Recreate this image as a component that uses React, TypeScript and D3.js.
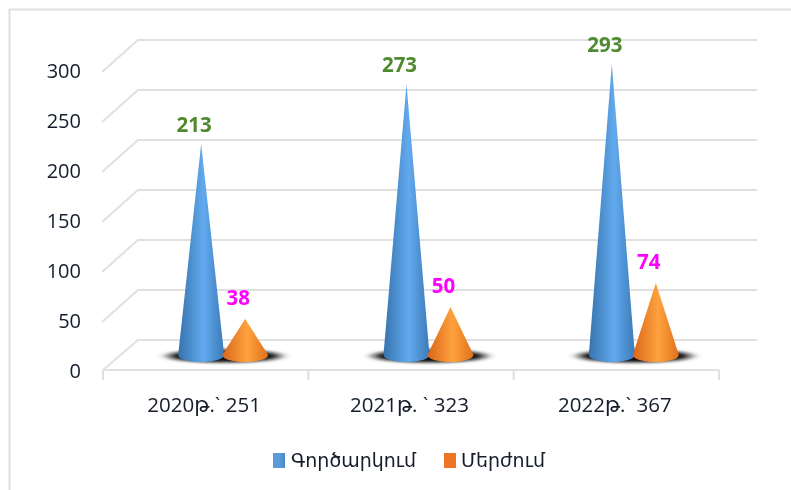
import React from "react";
import * as d3 from "d3";

const categories = ["2020թ.` 251", "2021թ. ` 323", "2022թ.` 367"];
const seriesNames = ["Գործարկում", "Մերժում"];
const approved = [213, 273, 293];
const rejected = [38, 50, 74];
const yTicks = [0, 50, 100, 150, 200, 250, 300];

const FONT = "'Open Sans', 'DejaVu Sans', sans-serif";
const GRID = "#e0e0e0";
const INK = "#141c2b";
const depth = { dx: 35, dy: -30 };
const yFront = d3.scaleLinear().domain([0, 300]).range([370, 70]);
const xFront = d3.scaleBand<string>().domain(categories).range([103, 719]);
const series = d3.scaleBand<string>().domain(seriesNames).range([-44, 44]);
const coneRx = 23;
const coneRy = 7;
const tipDrop = 2;

function Cone({ cx, value, fill }: { cx: number; value: number; fill: string }) {
  const base = yFront(0) + depth.dy / 2;
  const tip = yFront(value) + depth.dy / 2 + tipDrop;
  const d = `M${cx},${tip}L${cx + coneRx},${base}A${coneRx},${coneRy} 0 0 1 ${cx - coneRx},${base}Z`;
  return <path d={d} fill={`url(#${fill})`} />;
}

function Grad({ id, edgeL, mid, edgeR }: { id: string; edgeL: string; mid: string; edgeR: string }) {
  return (
    <linearGradient id={id} x1="0" x2="1" y1="0" y2="0">
      <stop offset="0" stopColor={edgeL} />
      <stop offset="0.55" stopColor={mid} />
      <stop offset="1" stopColor={edgeR} />
    </linearGradient>
  );
}

export default function App() {
  const centers = categories.map((c) => xFront(c)! + xFront.bandwidth() / 2 + depth.dx / 2);
  const sx0 = series(seriesNames[0])! + series.bandwidth() / 2;
  const sx1 = series(seriesNames[1])! + series.bandwidth() / 2;
  const floorMid = yFront(0) + depth.dy / 2;
  const tickXs = [...categories.map((c) => xFront(c)!), xFront.range()[1]];
  return (
    <svg
      width={791}
      height={490}
      style={{ position: "absolute", left: 0, top: 0, background: "#fff" }}
      fontFamily={FONT}
    >
      <defs>
        <Grad id="blue" edgeL="#3673ad" mid="#62aaee" edgeR="#3c7ab8" />
        <Grad id="orange" edgeL="#d9661a" mid="#ffa23e" edgeR="#e0701c" />
        <Grad id="blueKey" edgeL="#5a9bd9" mid="#5a9bd9" edgeR="#4a88c6" />
        <filter id="soft" x="-5%" y="-5%" width="110%" height="110%">
          <feGaussianBlur stdDeviation="0.45" />
        </filter>
        <filter id="shadow" x="-30%" y="-150%" width="160%" height="400%">
          <feGaussianBlur stdDeviation="6 1.8" />
        </filter>
      </defs>

      <path d="M9.5,490V9.5H791" fill="none" stroke="#e0e0e0" strokeWidth={2} />

      <g filter="url(#soft)">
        {yTicks.map((t) => {
          const y = yFront(t);
          return (
            <path
              key={t}
              d={`M${xFront.range()[0] + (t === 0 ? 0 : -1)},${y + (t === 0 ? 0 : 2)}L${xFront.range()[0] + depth.dx},${y + depth.dy}H757`}
              fill="none"
              stroke={GRID}
              strokeWidth={2}
            />
          );
        })}
        <path d={`M103,${yFront(0)}H719`} fill="none" stroke={GRID} strokeWidth={2} />
        {tickXs.map((x) => (
          <path key={x} d={`M${x},${yFront(0)}v10`} stroke={GRID} strokeWidth={2} fill="none" />
        ))}

        {centers.map((c, i) => (
          <ellipse
            key={i}
            cx={c + 1}
            cy={floorMid + 1}
            rx={56}
            ry={6.5}
            fill="#111"
            filter="url(#shadow)"
          />
        ))}
        {centers.map((c, i) => (
          <g key={i}>
            <Cone cx={c + sx0} value={approved[i]} fill="blue" />
            <Cone cx={c + sx1} value={rejected[i]} fill="orange" />
          </g>
        ))}

        {yTicks.map((t) => (
          <text key={t} x={81} y={yFront(t) + 8} textAnchor="end" fontSize={20} fill={INK}>
            {t}
          </text>
        ))}
        {centers.map((c, i) => (
          <text key={i} x={c - 19} y={412} textAnchor="middle" fontSize={20.5} fill={INK}>
            {categories[i]}
          </text>
        ))}
        {centers.map((c, i) => (
          <g key={i} fontWeight={700} fontSize={20.5} textAnchor="middle">
            <text x={c + sx0 - 7} y={yFront(approved[i]) + depth.dy / 2 - 10} fill="#4f8a2f">
              {approved[i]}
            </text>
            <text x={c + sx1 - 7} y={yFront(rejected[i]) + depth.dy / 2 - 12} fill="#ff00ff">
              {rejected[i]}
            </text>
          </g>
        ))}

        <rect x={273} y={453} width={12} height={15} fill="url(#blueKey)" />
        <text x={291} y={467} fontSize={19} fill={INK}>{seriesNames[0]}</text>
        <rect x={444} y={453} width={12} height={15} fill="#ee7425" />
        <text x={461} y={467} fontSize={19} fill={INK}>{seriesNames[1]}</text>
      </g>
    </svg>
  );
}
